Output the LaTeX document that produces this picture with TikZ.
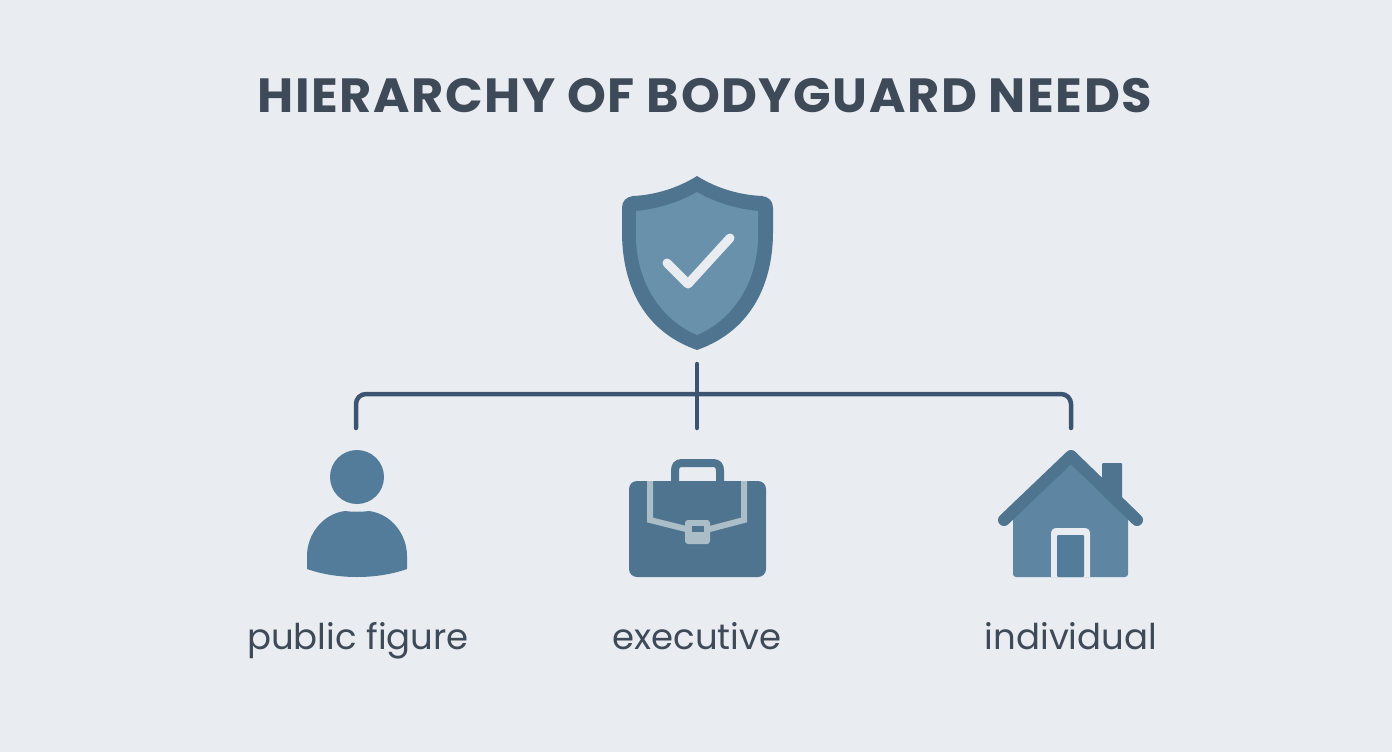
\documentclass[tikz,border=0pt]{standalone}
\usepackage{fontspec}
\setmainfont{Poppins}
\newfontfamily\titlefont[LetterSpace=3.2,FakeStretch=1.03]{Poppins}
\definecolor{paper}{HTML}{E9EDF1}
\definecolor{slate}{HTML}{3F4A59}
\definecolor{wirecol}{HTML}{3D5470}
\definecolor{darkblue}{HTML}{4F7490}
\definecolor{midblue}{HTML}{527C99}
\definecolor{lightblue}{HTML}{6A91AC}
\definecolor{strapcol}{HTML}{ABBEC8}
\tikzset{
  wire/.style={draw=wirecol,line width=4.5pt,line cap=round},
  caption/.style={text=slate,font=\fontsize{35.5}{40}\selectfont,anchor=base},
}
\begin{document}
\begin{tikzpicture}[x=1pt,y=-1pt]
   \fill[paper] (0,0) rectangle (1392,752);
   \useasboundingbox (0,0) rectangle (1392,752);
   \node[text=slate,font=\titlefont\bfseries\fontsize{48}{50}\selectfont,anchor=base] (title) at (705,112) {HIERARCHY OF BODYGUARD NEEDS};
   % shield
   \fill[darkblue] (697,176) .. controls (678,188) and (655,195) .. (633,196) .. controls (626,197) and (622,201) .. (622,208)
      -- (622,232) .. controls (622,280) and (640,330) .. (697,350)
      .. controls (754,330) and (773,280) .. (773,232) -- (773,208)
      .. controls (773,201) and (769,197) .. (762,196) .. controls (739,195) and (716,188) .. (697,176) -- cycle;
   \fill[lightblue] (697,192) .. controls (680,202) and (658,209) .. (636,211) -- (636,240)
      .. controls (638,285) and (662,320) .. (697,335)
      .. controls (732,320) and (756,285) .. (758,240) -- (758,211)
      .. controls (736,209) and (714,202) .. (697,192) -- cycle;
   \draw[paper,line width=9pt,line cap=round,line join=round] (667,263) -- (688,284) -- (730,238);
   % connectors
   \coordinate (shieldfoot) at (697,364);
   \coordinate (figuretop) at (356,428);
   \coordinate (exectop) at (697,428);
   \coordinate (hometop) at (1071,428);
   \coordinate (bar) at (697,394);
   \draw[wire] (shieldfoot) -- (exectop);
   \draw[wire,rounded corners=10pt] (figuretop) -- (figuretop |- bar) -- (hometop |- bar) -- (hometop);
   % person
   \fill[midblue] (357,477) circle (27);
   \fill[midblue] (307,569) -- (307,556) .. controls (307,535) and (322,514) .. (345,511)
      .. controls (352,512) and (362,512) .. (369,511)
      .. controls (392,514) and (407,535) .. (407,556) -- (407,569)
      .. controls (390,575) and (372,577) .. (357,577)
      .. controls (342,577) and (324,575) .. (307,569) -- cycle;
   % briefcase
   \draw[darkblue,line width=8pt] (675,483) -- (675,471) .. controls (675,466) and (677,463) .. (682,463)
      -- (713,463) .. controls (718,463) and (720,466) .. (720,471) -- (720,483);
   \fill[darkblue,rounded corners=8pt] (629,481) rectangle (766,577);
   \draw[strapcol,line width=6pt] (650,481) -- (650,520) -- (690,530);
   \draw[strapcol,line width=6pt] (744,481) -- (744,520) -- (706,530);
   \fill[strapcol,rounded corners=3pt] (685,520) rectangle (710,544);
   \fill[darkblue] (692,526) rectangle (704,532);
   % house
   \fill[darkblue,rounded corners=1pt] (1102,463) rectangle (1122,510);
   \fill[lightblue!50!midblue,rounded corners=3pt] (1013,510) -- (1071,455) -- (1128,510) -- (1128,577) -- (1013,577) -- cycle;
   \draw[darkblue,line width=12pt,line cap=round,line join=round] (1004,520) -- (1071,456) -- (1137,520);
   \fill[paper] (1051,577) -- (1051,534) .. controls (1051,530) and (1053,528) .. (1057,528)
      -- (1084,528) .. controls (1088,528) and (1090,530) .. (1090,534) -- (1090,577) -- cycle;
   \fill[midblue,rounded corners=1pt] (1057,577) -- (1057,535) -- (1084,535) -- (1084,577) -- cycle;
   % labels
   \node[caption] (figurelabel) at (358,649) {public figure};
   \node[caption] (execlabel) at (697,649) {executive};
   \node[caption] (homelabel) at (1071,649) {individual};
\end{tikzpicture}
\end{document}
